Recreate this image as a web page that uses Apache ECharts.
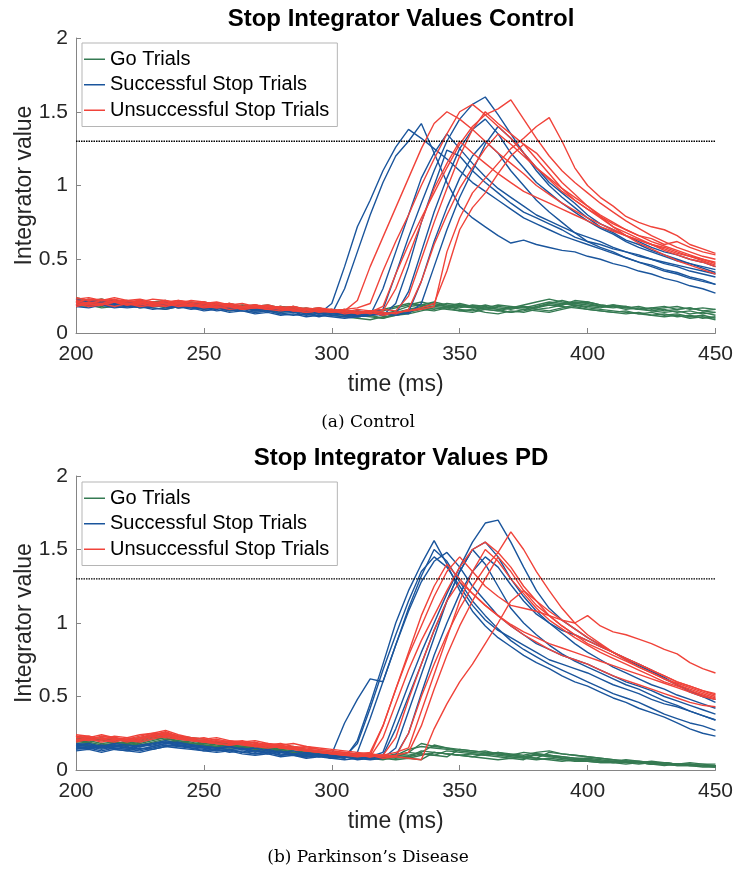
<!DOCTYPE html>
<html><head><meta charset="utf-8">
<script src="https://cdn.jsdelivr.net/npm/echarts@6/dist/echarts.min.js"></script>
<style>html,body{margin:0;padding:0;background:#fff}#c{width:736px;height:874px}</style>
</head><body><div id="c"></div>
<script>
const time = [200,205,210,215,220,225,230,235,240,245,250,255,260,265,270,275,280,285,290,295,
  300,305,310,315,320,325,330,335,340,345,350,355,360,365,370,375,380,385,390,395,
  400,405,410,415,420,425,430,435,440,445,450];
const xTicks = [200,250,300,350,400,450];
const yTicks = [0,0.5,1,1.5,2];
const threshold = 1.3;
const legendNames = ['Go Trials','Successful Stop Trials','Unsuccessful Stop Trials'];

// ---- Control ----
const ctrlGo = [
 [.22,.21,.23,.21,.20,.22,.20,.19,.21,.20, .19,.20,.18,.19,.18,.17,.18,.16,.17,.15, .16,.14,.13,.12,.13,.15,.18,.19,.21,.19, .18,.17,.19,.17,.16,.18,.17,.20,.22,.20, .19,.18,.17,.18,.16,.15,.16,.14,.15,.13, .14],
 [.19,.20,.18,.20,.19,.17,.18,.19,.17,.18, .17,.18,.16,.17,.18,.16,.15,.16,.14,.15, .13,.12,.11,.12,.10,.13,.15,.17,.16,.18, .16,.15,.17,.16,.14,.15,.17,.19,.18,.17, .16,.15,.14,.15,.13,.12,.13,.11,.12,.10, .11],
 [.24,.22,.23,.21,.22,.20,.21,.22,.19,.20, .21,.19,.20,.18,.19,.17,.18,.17,.16,.17, .15,.16,.14,.15,.16,.18,.20,.19,.18,.17, .19,.18,.16,.18,.17,.19,.21,.23,.21,.20, .21,.19,.18,.17,.18,.16,.17,.18,.16,.17, .16],
 [.18,.19,.17,.18,.20,.18,.17,.16,.18,.17, .16,.17,.15,.16,.17,.15,.14,.15,.13,.14, .12,.11,.10,.09,.11,.12,.14,.16,.15,.17, .15,.16,.14,.13,.15,.14,.16,.15,.17,.19, .17,.16,.15,.14,.13,.14,.12,.13,.11,.12, .10],
 [.21,.23,.21,.22,.20,.21,.19,.20,.20,.19, .18,.19,.17,.18,.16,.17,.16,.17,.15,.16, .14,.15,.13,.14,.12,.14,.16,.18,.20,.18, .17,.19,.18,.16,.17,.16,.18,.20,.19,.21, .20,.18,.19,.17,.16,.17,.15,.16,.17,.15, .16],
 [.20,.21,.19,.22,.21,.19,.20,.18,.19,.21, .20,.18,.19,.17,.18,.19,.17,.18,.16,.15, .16,.14,.15,.13,.14,.13,.15,.17,.18,.20, .19,.17,.16,.15,.17,.18,.16,.17,.19,.22, .21,.19,.18,.16,.17,.15,.14,.15,.13,.14, .12],
 [.23,.21,.22,.20,.21,.19,.21,.20,.18,.19, .20,.18,.17,.18,.16,.17,.15,.16,.15,.14, .15,.13,.12,.11,.10,.12,.13,.15,.17,.16, .15,.14,.16,.15,.14,.16,.15,.14,.16,.18, .16,.15,.14,.13,.14,.12,.11,.12,.10,.11, .09],
 [.19,.18,.20,.19,.18,.20,.19,.17,.18,.19, .17,.18,.16,.17,.15,.16,.17,.15,.16,.14, .15,.14,.13,.14,.15,.17,.19,.21,.19,.18, .20,.18,.17,.19,.18,.17,.19,.21,.20,.19, .18,.17,.19,.18,.16,.17,.18,.16,.17,.15, .14]
];
const ctrlSuccess = [
 [.20,.19,.21,.20,.18,.19,.20,.18,.19,.17, .18,.17,.18,.16,.17,.15,.16,.14,.15,.13, .20,.45,.72,.90,1.10,1.26,1.38,1.32,1.25,1.18, 1.10,1.02,.96,.90,.84,.78,.74,.70,.66,.63, .60,.57,.54,.51,.48,.46,.43,.41,.38,.36, .33],
 [.18,.17,.19,.18,.17,.18,.16,.17,.18,.16, .17,.15,.16,.15,.14,.15,.13,.12,.13,.11, .13,.30,.55,.80,1.02,1.20,1.30,1.42,1.22,1.02, .86,.78,.72,.66,.61,.63,.60,.58,.56,.55, .52,.50,.47,.45,.42,.40,.37,.35,.32,.30, .27],
 [.22,.20,.21,.19,.20,.21,.19,.18,.20,.19, .17,.18,.16,.17,.15,.16,.14,.15,.13,.14, .12,.13,.11,.12,.30,.55,.80,1.05,1.22,1.35, 1.25,1.15,1.06,.98,.92,.86,.80,.76,.72,.68, .65,.62,.58,.55,.53,.50,.47,.45,.42,.40, .38],
 [.19,.21,.20,.22,.19,.20,.18,.19,.17,.18, .19,.17,.16,.17,.15,.16,.15,.14,.15,.13, .14,.12,.13,.14,.16,.40,.65,.88,1.10,1.30, 1.45,1.55,1.60,1.48,1.35,1.22,1.10,1.00,.92,.85, .78,.72,.68,.63,.60,.56,.53,.50,.47,.44, .41],
 [.21,.19,.20,.18,.19,.17,.18,.19,.17,.18, .16,.17,.15,.16,.14,.15,.13,.14,.12,.13, .12,.11,.12,.13,.12,.20,.45,.75,1.00,1.24, 1.20,1.10,1.02,.95,.88,.82,.78,.74,.70,.65, .62,.60,.57,.55,.52,.50,.48,.46,.44,.42, .40],
 [.23,.21,.22,.20,.21,.19,.20,.21,.19,.20, .18,.19,.17,.18,.16,.17,.15,.16,.14,.15, .13,.14,.12,.13,.14,.13,.28,.55,.82,1.05, 1.25,1.38,1.45,1.35,1.22,1.12,1.02,.95,.88,.82, .76,.71,.67,.62,.58,.55,.52,.49,.47,.45, .43],
 [.18,.20,.19,.17,.18,.19,.17,.16,.18,.17, .15,.16,.14,.15,.13,.14,.12,.13,.11,.12, .11,.10,.11,.12,.13,.12,.14,.35,.62,.85, 1.05,1.20,1.30,1.22,1.10,1.00,.90,.82,.75,.68, .62,.58,.55,.51,.48,.45,.42,.40,.37,.35, .33],
 [.20,.22,.21,.19,.20,.22,.20,.19,.21,.20, .19,.18,.19,.17,.16,.17,.15,.16,.14,.15, .14,.13,.15,.14,.12,.14,.13,.20,.45,.70, .92,1.10,1.28,1.40,1.32,1.22,1.12,1.02,.95,.88, .80,.74,.70,.66,.62,.58,.55,.53,.50,.48, .45]
];
const ctrlFail = [
 [.24,.22,.23,.21,.22,.23,.21,.20,.22,.21, .20,.21,.19,.20,.18,.19,.17,.18,.16,.17, .16,.15,.22,.45,.65,.85,1.05,1.25,1.42,1.50, 1.45,1.38,1.30,1.22,1.15,1.08,1.00,.94,.88,.83, .78,.74,.70,.66,.63,.60,.57,.54,.52,.50, .48],
 [.21,.23,.22,.24,.22,.21,.23,.22,.20,.22, .21,.19,.20,.18,.19,.18,.17,.18,.16,.17, .15,.16,.17,.20,.42,.62,.80,1.00,1.18,1.35, 1.50,1.55,1.48,1.40,1.32,1.22,1.12,1.04,.96,.90, .84,.79,.74,.70,.66,.62,.59,.56,.53,.50, .47],
 [.19,.21,.20,.22,.20,.19,.21,.20,.19,.18, .20,.18,.19,.17,.18,.16,.17,.15,.16,.15, .14,.15,.13,.14,.18,.40,.60,.78,.95,1.12, 1.28,1.40,1.48,1.52,1.58,1.45,1.32,1.20,1.10,1.02, .95,.88,.82,.76,.71,.66,.62,.58,.55,.52, .50],
 [.22,.20,.22,.21,.19,.21,.20,.22,.20,.19, .18,.20,.18,.17,.19,.17,.16,.17,.15,.16, .15,.14,.16,.15,.13,.14,.15,.16,.18,.55, .78,.95,1.05,1.15,1.25,1.32,1.40,1.46,1.30,1.12, 1.00,.92,.86,.79,.75,.72,.70,.66,.60,.57, .54],
 [.20,.18,.19,.21,.20,.18,.19,.20,.18,.19, .17,.18,.16,.17,.18,.16,.15,.16,.14,.15, .16,.14,.15,.13,.15,.30,.52,.75,.98,1.15, 1.30,1.22,1.15,1.08,1.02,.96,.92,.88,.84,.80, .76,.72,.69,.66,.63,.60,.58,.55,.52,.49, .46],
 [.23,.24,.22,.23,.21,.22,.20,.21,.22,.20, .21,.19,.20,.18,.19,.17,.18,.16,.17,.16, .15,.16,.14,.15,.16,.15,.25,.50,.75,.98, 1.20,1.38,1.50,1.42,1.35,1.28,1.18,1.08,.98,.90, .84,.78,.72,.68,.64,.60,.56,.53,.50,.48, .45],
 [.18,.20,.19,.21,.19,.20,.18,.19,.21,.19, .18,.17,.18,.16,.17,.18,.16,.15,.16,.14, .15,.13,.14,.15,.14,.13,.16,.35,.60,.80, .98,1.12,1.25,1.35,1.28,1.20,1.12,1.05,.98,.92, .86,.80,.75,.70,.66,.64,.60,.62,.58,.55, .53],
 [.21,.19,.20,.18,.20,.21,.19,.18,.20,.19, .19,.17,.18,.16,.17,.16,.17,.15,.14,.15, .14,.15,.13,.14,.12,.14,.15,.17,.20,.42, .70,.85,.95,1.08,1.20,1.28,1.22,1.12,1.02,.94, .86,.79,.72,.66,.61,.57,.53,.49,.46,.43, .40]
];

// ---- Parkinson's Disease ----
const pdGo = [
 [.20,.19,.21,.19,.18,.20,.22,.24,.22,.21, .19,.18,.17,.16,.17,.15,.14,.15,.13,.12, .11,.10,.09,.10,.08,.10,.14,.16,.15,.14, .13,.12,.11,.12,.10,.09,.11,.10,.08,.07, .07,.06,.06,.05,.05,.04,.05,.04,.04,.03, .03],
 [.17,.18,.16,.18,.17,.19,.21,.22,.20,.19, .17,.16,.15,.16,.14,.13,.14,.12,.11,.12, .10,.09,.10,.08,.09,.11,.10,.12,.17,.15, .14,.13,.12,.11,.10,.12,.11,.10,.09,.08, .08,.07,.06,.07,.06,.05,.05,.04,.05,.04, .04],
 [.22,.21,.20,.22,.20,.21,.23,.25,.23,.21, .20,.19,.18,.17,.16,.17,.15,.14,.13,.12, .11,.10,.11,.09,.10,.09,.12,.11,.10,.13, .12,.11,.10,.12,.11,.10,.12,.13,.11,.10, .09,.08,.07,.06,.06,.05,.05,.04,.04,.03, .03],
 [.19,.20,.18,.19,.18,.17,.19,.21,.20,.18, .18,.17,.16,.15,.16,.14,.13,.12,.13,.11, .10,.11,.09,.10,.09,.08,.09,.13,.12,.11, .10,.11,.10,.09,.08,.09,.08,.07,.06,.07, .06,.05,.05,.04,.05,.04,.03,.04,.03,.03, .02],
 [.21,.22,.20,.21,.19,.20,.22,.23,.21,.20, .18,.19,.17,.16,.15,.16,.14,.13,.12,.11, .10,.09,.08,.09,.08,.10,.09,.11,.10,.09, .14,.13,.12,.11,.10,.09,.08,.12,.11,.10, .09,.08,.07,.06,.05,.06,.05,.04,.04,.04, .03],
 [.18,.19,.17,.18,.19,.18,.20,.22,.19,.18, .17,.16,.17,.15,.14,.15,.13,.12,.11,.12, .11,.10,.09,.08,.07,.09,.08,.10,.12,.11, .10,.09,.11,.10,.09,.08,.07,.08,.07,.06, .06,.05,.05,.06,.05,.04,.04,.03,.03,.02, .02],
 [.23,.21,.22,.20,.21,.22,.24,.25,.23,.22, .21,.19,.18,.19,.17,.16,.15,.16,.14,.13, .12,.11,.10,.11,.09,.10,.12,.18,.16,.15, .13,.12,.13,.11,.10,.09,.10,.09,.08,.07, .07,.06,.05,.06,.05,.04,.04,.04,.03,.03, .03],
 [.16,.17,.15,.16,.17,.16,.18,.20,.19,.17, .16,.15,.14,.15,.13,.12,.13,.11,.10,.11, .09,.10,.08,.09,.08,.07,.08,.07,.12,.11, .10,.09,.08,.07,.08,.07,.11,.10,.09,.08, .07,.06,.05,.05,.04,.05,.04,.03,.03,.03, .02]
];
const pdSuccess = [
 [.15,.14,.16,.14,.13,.15,.14,.16,.17,.15, .14,.13,.14,.12,.11,.12,.10,.11,.09,.10, .11,.32,.48,.62,.60,.85,1.10,1.32,1.50,1.42, 1.28,1.15,1.05,.96,.88,.82,.77,.72,.68,.64, .60,.56,.52,.49,.46,.42,.38,.35,.32,.30, .27],
 [.17,.16,.15,.17,.16,.14,.16,.18,.19,.17, .16,.15,.14,.15,.13,.12,.13,.11,.10,.11, .09,.08,.20,.45,.72,1.00,1.22,1.40,1.56,1.40, 1.22,1.08,.98,.90,.84,.78,.73,.69,.64,.60, .57,.53,.49,.46,.42,.39,.36,.32,.28,.25, .23],
 [.14,.15,.13,.15,.14,.13,.15,.17,.16,.15, .13,.14,.12,.13,.11,.12,.10,.11,.09,.10, .08,.09,.18,.42,.68,.92,1.15,1.35,1.45,1.38, 1.25,1.12,1.02,.95,.90,.85,.80,.75,.72,.69, .66,.62,.58,.55,.52,.48,.45,.43,.40,.37, .34],
 [.16,.15,.17,.15,.14,.16,.17,.19,.17,.16, .15,.14,.13,.14,.12,.13,.11,.10,.11,.09, .10,.08,.12,.35,.60,.85,1.08,1.28,1.42,1.48, 1.38,1.25,1.15,1.05,.98,.92,.86,.82,.78,.75, .72,.68,.64,.60,.57,.54,.50,.47,.44,.41, .38],
 [.18,.17,.16,.18,.17,.16,.18,.20,.18,.17, .16,.15,.16,.14,.13,.14,.12,.11,.12,.10, .09,.10,.08,.09,.12,.35,.58,.80,1.00,1.20, 1.38,1.55,1.68,1.70,1.55,1.38,1.22,1.10,1.02,.96, .90,.85,.80,.75,.71,.67,.63,.58,.54,.50, .46],
 [.15,.16,.14,.16,.15,.14,.16,.18,.17,.16, .15,.13,.14,.12,.13,.11,.12,.10,.09,.10, .08,.09,.07,.08,.10,.28,.50,.72,.95,1.15, 1.35,1.50,1.55,1.45,1.30,1.18,1.08,1.00,.93,.86, .80,.75,.70,.66,.62,.58,.55,.51,.48,.45, .42],
 [.13,.14,.12,.14,.13,.12,.14,.16,.15,.14, .13,.12,.13,.11,.10,.11,.09,.10,.08,.09, .08,.07,.08,.07,.08,.15,.40,.65,.90,1.15, 1.35,1.50,1.40,1.25,1.10,1.00,.92,.85,.79,.74, .70,.66,.62,.58,.55,.51,.47,.44,.40,.37, .34],
 [.17,.18,.16,.17,.15,.17,.18,.19,.18,.17, .16,.15,.16,.14,.15,.13,.12,.13,.11,.12, .10,.09,.10,.08,.09,.10,.25,.52,.78,1.00, 1.20,1.35,1.45,1.38,1.26,1.15,1.06,1.00,.95,.92, .88,.84,.80,.76,.72,.68,.62,.58,.53,.50, .48]
];
const pdFail = [
 [.22,.21,.23,.22,.20,.22,.24,.26,.23,.22, .21,.19,.20,.18,.17,.18,.16,.15,.16,.14, .13,.12,.11,.10,.30,.55,.80,1.05,1.25,1.40, 1.30,1.20,1.12,1.05,.99,.94,.90,.86,.83,.80, .77,.74,.71,.68,.65,.62,.59,.56,.53,.50, .48],
 [.20,.22,.21,.20,.22,.21,.23,.25,.22,.21, .19,.20,.18,.19,.17,.16,.17,.15,.14,.13, .12,.11,.10,.09,.22,.45,.68,.88,1.05,1.22, 1.38,1.50,1.55,1.48,1.38,1.25,1.15,1.05,.98,.92, .88,.84,.80,.76,.72,.68,.64,.60,.57,.54, .52],
 [.23,.22,.24,.22,.21,.23,.25,.24,.22,.21, .22,.20,.19,.20,.18,.17,.18,.16,.15,.14, .13,.12,.11,.12,.30,.55,.78,.98,1.18,1.35, 1.45,1.35,1.25,1.18,1.12,1.10,1.08,1.05,1.02,1.00, 1.05,.98,.94,.92,.89,.86,.82,.79,.73,.69, .66],
 [.21,.20,.22,.21,.19,.21,.23,.22,.21,.20, .19,.18,.19,.17,.16,.17,.15,.14,.13,.12, .11,.10,.09,.10,.08,.09,.25,.50,.72,.92, 1.10,1.25,1.38,1.48,1.62,1.50,1.35,1.22,1.10,1.00, .92,.86,.80,.75,.70,.66,.62,.58,.55,.52, .49],
 [.24,.23,.21,.23,.22,.24,.25,.27,.24,.22, .21,.22,.20,.19,.20,.18,.17,.18,.16,.15, .14,.13,.12,.11,.10,.12,.15,.40,.65,.90, 1.15,1.35,1.50,1.42,1.30,1.20,1.10,1.02,.96,.90, .85,.80,.76,.72,.68,.64,.60,.57,.54,.51, .48],
 [.19,.21,.20,.19,.21,.20,.22,.24,.21,.20, .20,.18,.17,.18,.16,.15,.16,.14,.13,.12, .11,.12,.10,.11,.09,.10,.12,.30,.55,.78, .98,1.15,1.30,1.45,1.35,1.22,1.12,1.05,.98,.92, .86,.82,.78,.74,.70,.66,.62,.59,.56,.53, .50],
 [.22,.23,.21,.22,.20,.22,.24,.25,.23,.21, .20,.21,.19,.18,.19,.17,.16,.15,.14,.13, .12,.11,.10,.09,.10,.09,.08,.07,.28,.45, .60,.72,.86,1.00,1.15,1.22,1.15,1.08,1.02,.96, .90,.85,.80,.76,.72,.68,.64,.60,.57,.54, .51],
 [.20,.21,.19,.21,.20,.19,.21,.23,.22,.20, .19,.18,.17,.18,.16,.17,.15,.14,.13,.12, .11,.10,.11,.09,.10,.22,.48,.72,.95,1.15, 1.28,1.20,1.12,1.05,.98,.92,.87,.82,.78,.75, .72,.68,.64,.61,.58,.55,.52,.49,.46,.44, .43]
];

const COLORS = {go:'#357a52', ok:'#1a559c', fail:'#f0433a'};
const TEXT = '#262626', AXIS = '#858585';
const FONT = 'Liberation Sans, Arial, Helvetica, sans-serif';

function lines(name, color, arr, gi){
  return arr.map(vals => ({
    type:'line', name, xAxisIndex:gi, yAxisIndex:gi,
    data: time.map((t,i)=>[t, vals[i]]),
    symbol:'none', showSymbol:false, silent:true, animation:false,
    lineStyle:{color, width:1.4}, itemStyle:{color},
    emphasis:{disabled:true}
  }));
}
function thr(gi){
  return {type:'line', name:'threshold', xAxisIndex:gi, yAxisIndex:gi,
    data:[[xTicks[0],threshold],[xTicks[xTicks.length-1],threshold]],
    symbol:'none', silent:true, animation:false, z:5,
    lineStyle:{color:'#000', width:1.3, type:[1.5,1]}};
}
const grids = [
  {left:76, right:20, top:38, height:295},
  {left:76, right:20, top:476, height:294}
];
function xAx(gi){ return {type:'value', gridIndex:gi, min:200, max:450, interval:50,
  axisLine:{lineStyle:{color:AXIS, width:1}}, axisTick:{inside:true, length:5, lineStyle:{color:AXIS}},
  axisLabel:{color:TEXT, fontSize:21, margin:11, fontFamily:FONT}, splitLine:{show:false},
  name:'time (ms)', nameLocation:'middle', nameGap:40, nameMoveOverlap:false,
  nameTextStyle:{color:TEXT, fontSize:23, fontFamily:FONT}}; }
function yAx(gi){ return {type:'value', gridIndex:gi, min:0, max:2, interval:0.5,
  axisLine:{show:true, lineStyle:{color:AXIS, width:1}}, axisTick:{show:true, inside:true, length:5, lineStyle:{color:AXIS}},
  axisLabel:{color:TEXT, fontSize:21, margin:8, fontFamily:FONT}, splitLine:{show:false},
  name:'Integrator value', nameLocation:'middle', nameGap:40, nameMoveOverlap:false,
  nameTextStyle:{color:TEXT, fontSize:23, fontFamily:FONT}}; }
function leg(top){ return {orient:'vertical', left:82, top, data:legendNames, selectedMode:false,
  icon:'rect', itemWidth:21, itemHeight:1.5, itemGap:5, padding:[6,8,6,2],
  borderColor:'#b5b5b5', borderWidth:1, backgroundColor:'#fff',
  textStyle:{color:'#000', fontSize:20, fontFamily:FONT, lineHeight:20.5}}; }

const chart = echarts.init(document.getElementById('c'), null, {renderer:'canvas'});
chart.setOption({
  animation:false,
  title:[
    {text:'Stop Integrator Values Control', left:396, top:2, textAlign:'center', textStyle:{fontSize:24, fontWeight:'bold', color:'#000', fontFamily:FONT}},
    {text:'Stop Integrator Values PD', left:396, top:441, textAlign:'center', textStyle:{fontSize:24, fontWeight:'bold', color:'#000', fontFamily:FONT}}
  ],
  grid:grids,
  xAxis:[xAx(0), xAx(1)],
  yAxis:[yAx(0), yAx(1)],
  legend:[leg(43), leg(482)],
  series:[].concat(
    lines(legendNames[0], COLORS.go, ctrlGo, 0),
    lines(legendNames[1], COLORS.ok, ctrlSuccess, 0),
    lines(legendNames[2], COLORS.fail, ctrlFail, 0),
    [thr(0)],
    lines(legendNames[0], COLORS.go, pdGo, 1),
    lines(legendNames[1], COLORS.ok, pdSuccess, 1),
    lines(legendNames[2], COLORS.fail, pdFail, 1),
    [thr(1)]
  ),
  graphic:[
    {type:'text', left:'center', top:414, style:{text:'(a) Control', font:'17px "DejaVu Serif", "Liberation Serif", serif', fill:'#000'}},
    {type:'text', left:'center', top:849, style:{text:"(b) Parkinson\u2019s Disease", font:'17px "DejaVu Serif", "Liberation Serif", serif', fill:'#000'}}
  ]
});
</script></body></html>
